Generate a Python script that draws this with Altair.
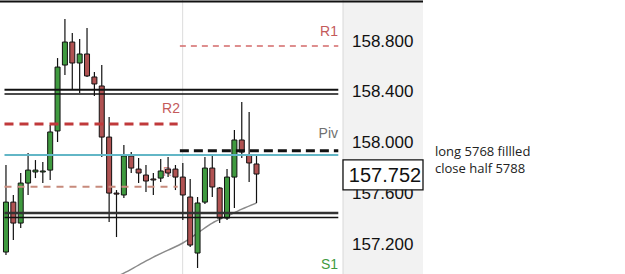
import altair as alt
import pandas as pd

# ---- candle data (index, OHLC) ----
idx = list(range(35))
opens = [157.144, 157.537, 157.372, 157.687, 157.774, 157.774, 157.789, 158.097, 158.616, 158.797,
         158.632, 158.703, 158.522, 158.451, 158.049, 157.608, 157.593, 157.900, 157.797, 157.750,
         157.719, 157.726, 157.797, 157.797, 157.734, 157.577, 157.136, 157.537, 157.805, 157.648,
         157.411, 157.734, 158.026, 157.908, 157.837]
highs = [157.829, 157.593, 157.766, 157.923, 157.868, 157.852, 158.144, 158.671, 158.978, 158.868,
         158.821, 158.908, 158.561, 158.616, 158.207, 157.632, 157.986, 157.931, 157.884, 157.829,
         157.766, 157.876, 157.892, 157.829, 157.845, 157.719, 157.577, 157.892, 157.908, 157.656,
         157.797, 158.104, 158.325, 158.246, 157.908]
lows = [157.120, 157.238, 157.333, 157.593, 157.726, 157.687, 157.711, 158.010, 158.537, 158.419,
        158.396, 158.522, 158.372, 157.892, 157.380, 157.262, 157.569, 157.766, 157.687, 157.616,
        157.593, 157.695, 157.734, 157.632, 157.396, 157.183, 157.018, 157.522, 157.577, 157.372,
        157.396, 157.490, 157.884, 157.695, 157.530]
closes = [157.537, 157.372, 157.687, 157.789, 157.789, 157.782, 158.089, 158.600, 158.797, 158.632,
          158.703, 158.530, 158.467, 158.049, 157.608, 157.600, 157.900, 157.805, 157.766, 157.703,
          157.711, 157.782, 157.766, 157.734, 157.593, 157.199, 157.530, 157.805, 157.656, 157.411,
          157.734, 158.026, 157.931, 157.845, 157.758]

# moving average line
ma_idx = [15, 16, 18, 20, 22, 24, 26, 28, 30, 32, 34]
ma_vals = [156.950, 156.978, 157.041, 157.104, 157.159, 157.215, 157.293, 157.372, 157.427, 157.482, 157.530]

# horizontal levels (prices)
r1 = 158.766
r2 = 158.152
piv = 157.941
cyan_level = 157.908
light_red_level = 157.658
upper_pair = [158.421, 158.388]
lower_pair = [157.451, 157.415]
s1_label_price = 157.041

tick_values = [157.2, 157.6, 158.0, 158.4, 158.8]
last_price = 157.752
box_half = 0.118

notes = ["long 5768 fillled", "close half 5788"]

# day ranges in candle index units
left_day = (-0.2, 23.3)
right_day = (23.6, 45.1)
full_range = (-0.2, 45.1)
day_break = 23.98

# ---- chart ----
W, H = 343, 274
xs = alt.Scale(domain=[-0.132, 45.06], nice=False, zero=False)
ys = alt.Scale(domain=[156.971, 159.128], nice=False, zero=False)

df = pd.DataFrame({"i": idx, "open": opens, "high": highs, "low": lows, "close": closes})
df["dir"] = ["up" if c >= o else "down" for o, c in zip(opens, closes)]

base = alt.Chart(df)

X = alt.X("i:Q", scale=xs, axis=None)

axis_bg = alt.Chart(pd.DataFrame({"a": [0]})).mark_rect(color="#f2f2f2").encode(
    x=alt.value(343), x2=alt.value(423), y=alt.value(0), y2=alt.value(274))

sep = alt.Chart(pd.DataFrame({"d": [day_break]})).mark_rule(color="#dcdcdc", strokeWidth=1).encode(
    x=alt.X("d:Q", scale=xs, axis=None), y=alt.value(0), y2=alt.value(274))

edge = alt.Chart(pd.DataFrame({"a": [0]})).mark_rule(color="#d8d8d8", strokeWidth=1).encode(
    x=alt.value(343), y=alt.value(0), y2=alt.value(274))


def level(price, rng, color, width, dash=None, opacity=1.0):
    kw = dict(color=color, strokeWidth=width, opacity=opacity)
    if dash:
        kw["strokeDash"] = dash
    return alt.Chart(pd.DataFrame({"p": [price]})).mark_rule(**kw).encode(
        y=alt.Y("p:Q", scale=ys, axis=None),
        x=alt.datum(rng[0], scale=xs), x2=alt.datum(rng[1]))


small_r = alt.Chart(pd.DataFrame({"p": [light_red_level], "t": ["R"]})).mark_text(
    align="left", baseline="middle", fontSize=12, font="Liberation Sans", color="#d88a8a", dy=-15
).encode(x=alt.value(163), y=alt.Y("p:Q", scale=ys, axis=None), text="t:N")

ma = alt.Chart(pd.DataFrame({"i": ma_idx, "v": ma_vals})).mark_line(
    color="#8a8a8a", strokeWidth=1.5, interpolate="monotone", clip=True
).encode(x=alt.X("i:Q", scale=xs, axis=None), y=alt.Y("v:Q", scale=ys, axis=None))

wicks = base.mark_rule(color="#111111", strokeWidth=1.2, clip=True).encode(
    x=X, y=alt.Y("low:Q", scale=ys, axis=None), y2="high:Q")

bodies = base.mark_bar(size=5, stroke="#111111", strokeWidth=1, clip=True).encode(
    x=X, y=alt.Y("open:Q", scale=ys, axis=None), y2="close:Q",
    fill=alt.Fill("dir:N", scale=alt.Scale(domain=["up", "down"], range=["#3f9a3f", "#b05252"]), legend=None))

levels = [
    level(upper_pair[0], full_range, "#111111", 2),
    level(upper_pair[1], full_range, "#111111", 1.5),
    level(lower_pair[0], full_range, "#333333", 2.5),
    level(lower_pair[1], full_range, "#111111", 1.5),
    level(cyan_level, full_range, "#62b6c6", 2),
    level(r1, right_day, "#d46a6a", 1.5, [6, 5]),
    level(r2, left_day, "#c0393b", 3, [9, 6]),
    level(light_red_level, left_day, "#c78a7c", 2, [7, 6]),
    level(piv, right_day, "#111111", 3, [9, 5]),
]

lab_df = pd.DataFrame({"p": [r1, r2, piv, s1_label_price],
                       "t": ["R1", "R2", "Piv", "S1"],
                       "k": ["R1", "R2", "Piv", "S1"]})


def label(text, xpix, dy, color):
    d = lab_df[lab_df.k == text]
    return alt.Chart(d).mark_text(align="right", baseline="middle", fontSize=14,
                                  font="Liberation Sans", color=color, dy=dy).encode(
        x=alt.value(xpix), y=alt.Y("p:Q", scale=ys, axis=None), text="t:N")


labels = [
    label("R1", 338, -14, "#c45a5a"),
    label("R2", 180, -15, "#c45a5a"),
    label("Piv", 338, -17, "#707070"),
    label("S1", 338, 0, "#3f9a3f"),
]

ticks = alt.Chart(pd.DataFrame({"v": tick_values})).mark_text(
    align="left", baseline="middle", fontSize=17, font="Liberation Sans", color="#111111"
).encode(x=alt.value(352), y=alt.Y("v:Q", scale=ys, axis=None), text=alt.Text("v:Q", format=".3f"))

box_df = pd.DataFrame({"top": [last_price + box_half], "bot": [last_price - box_half],
                       "p": [last_price]})
box = alt.Chart(box_df).mark_rect(fill="white", stroke="#111111", strokeWidth=1.3).encode(
    x=alt.value(343), x2=alt.value(423), y=alt.Y("top:Q", scale=ys, axis=None), y2="bot:Q")
box_text = alt.Chart(box_df).mark_text(
    align="center", baseline="middle", fontSize=20, font="Liberation Sans", color="#111111", dy=1
).encode(x=alt.value(385), y=alt.Y("p:Q", scale=ys, axis=None), text=alt.Text("p:Q", format=".3f"))

note_layers = [
    alt.Chart(pd.DataFrame({"t": [notes[0]]})).mark_text(
        align="left", baseline="middle", fontSize=13, font="Open Sans", color="#222222"
    ).encode(x=alt.value(435), y=alt.value(152), text="t:N"),
    alt.Chart(pd.DataFrame({"t": [notes[1]]})).mark_text(
        align="left", baseline="middle", fontSize=13, font="Open Sans", color="#222222"
    ).encode(x=alt.value(435), y=alt.value(169), text="t:N"),
]

top_border = alt.Chart(pd.DataFrame({"a": [0]})).mark_rule(color="#111111", strokeWidth=2).encode(
    x=alt.value(0), x2=alt.value(423), y=alt.value(1.5))

chart = alt.layer(
    axis_bg, sep, edge, small_r, ma, wicks, bodies, *levels, *labels, ticks, box, box_text,
    *note_layers, top_border
).properties(
    width=W, height=H,
    padding={"left": 0, "top": 0, "right": 282, "bottom": 0},
    autosize=alt.AutoSizeParams(type="none"),
    background="white",
).configure_view(stroke=None)

chart.save("out.html", embed_options={"renderer": "svg", "actions": False})
